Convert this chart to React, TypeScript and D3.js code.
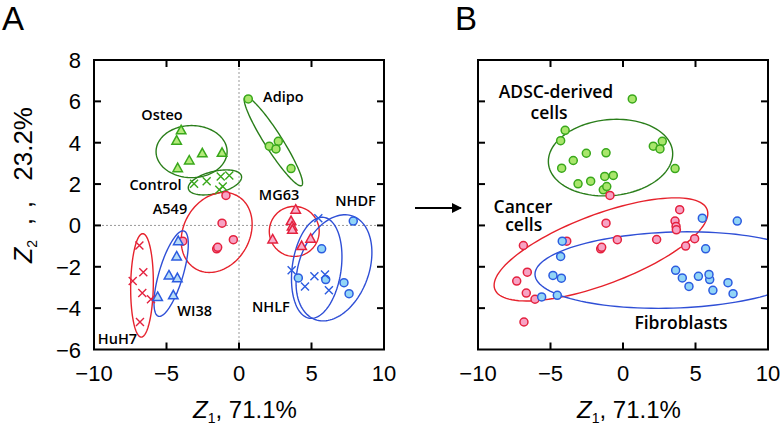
import React from "react";
import * as d3 from "d3";

// ---------- data (Z1, Z2 scores) ----------
const osteo: [number, number][] = [[-3.99, 4.6], [-4.3, 4.1], [-2.53, 3.49], [-3.43, 3.14], [-1.17, 3.51], [-4.23, 2.77]];
const adipo: [number, number][] = [[0.64, 6.12], [2.71, 4.07], [2.09, 3.83], [2.55, 3.7], [3.59, 2.75]];
const control: [number, number][] = [[-3.1, 2.01], [-2.23, 2.14], [-1.26, 2.37], [-0.67, 2.42], [-1.36, 1.72], [-1.12, 1.88]];
const a549: [number, number][] = [[-0.9, 1.45], [-1.17, 0.11], [-0.39, -0.69], [-1.54, -1.13], [-1.47, -1.06], [-3.88, -0.76]];
const huh7: [number, number][] = [[-6.87, -0.97], [-6.6, -2.26], [-7.33, -2.69], [-6.67, -3.27], [-6.07, -3.57], [-6.83, -4.67]];
const mg63: [number, number][] = [[3.91, 0.76], [3.59, 0.21], [3.66, -0.05], [3.68, -0.21], [2.32, -0.68], [4.94, -0.64], [4.32, -1.0]];
const wi38: [number, number][] = [[-4.19, -0.76], [-4.3, -1.5], [-4.83, -2.42], [-4.25, -2.55], [-4.53, -3.38], [-5.61, -3.46]];
const nhdf: [number, number][] = [[7.88, 0.21], [5.7, -1.13], [4.09, -2.54], [5.98, -2.62], [7.24, -2.77], [7.59, -3.3]];
const nhlf: [number, number][] = [[5.47, 0.35], [3.63, -2.17], [4.55, -2.95], [5.2, -2.46], [5.93, -2.37], [6.2, -3.14]];

const groupNames = ["Osteo", "Adipo", "Control", "A549", "HuH7", "MG63", "WI38", "NHDF", "NHLF"];
const groupPoints = [osteo, adipo, control, a549, huh7, mg63, wi38, nhdf, nhlf];
const groupShapes = ["triangle", "circle", "cross", "circle", "cross", "triangle", "triangle", "circle", "cross"];
const groupClass = ["adsc", "adsc", "adsc", "cancer", "cancer", "cancer", "fibro", "fibro", "fibro"];
// label anchor (data units)
const groupLabelX = [-5.31, 3.06, -5.76, -4.76, -8.38, 2.76, -3.06, 8.03, 2.2];
const groupLabelY = [5.33, 6.2, 1.94, 0.78, -5.47, 1.45, -4.12, 1.16, -3.96];
// ellipses: centre and two semi-axis vectors (data units)
const groupEllipses = [
  [-3.27, 3.57, 2.45, 0.0, 0.0, -1.26],
  [2.37, 4.07, 1.95, -2.14, 0.5, 0.23],
  [-1.66, 2.08, 1.83, 0.31, 0.18, -0.52],
  [-1.54, -0.34, 1.45, 1.76, 1.97, -0.8],
  [-6.69, -2.9, 0.78, 0.0, 0.05, 2.5],
  [3.81, -0.29, 1.72, 0.0, 0.0, 1.21],
  [-4.68, -2.33, 0.88, 2.06, 0.79, -0.17],
  [6.55, -2.05, 1.3, 2.5, 2.27, -0.58],
  [5.36, -2.05, 0.49, 2.44, 1.67, -0.16],
];

const classNames = ["adsc", "cancer", "fibro"];
const classLabels = [["ADSC-derived", "cells"], ["Cancer", "cells"], ["Fibroblasts"]];
const classLabelX = [[-4.62, -5.1], [-6.9, -6.85], [4.0]];
const classLabelY = [[6.44, 5.45], [0.89, 0.03], [-4.7]];
const classEllipses = [
  [-0.86, 3.28, 4.28, 0.29, 0.25, -1.83],
  [-1.52, -1.16, 7.32, 1.93, 0.85, -1.58],
  [3.45, -2.16, 9.52, 0.2, 0.0, 1.84],
];

const xTicks = [-10, -5, 0, 5, 10];
const yTicks = [-6, -4, -2, 0, 2, 4, 6, 8];

const colors: Record<string, { stroke: string; fill: string; ell: string; triFill: string }> = {
  adsc: { stroke: "#3aa81c", fill: "#a9e66c", ell: "#2a7e1a", triFill: "#b4ea7a" },
  cancer: { stroke: "#e4223f", fill: "#f7a3c4", ell: "#e6222c", triFill: "#f7b0cc" },
  fibro: { stroke: "#2c5ce0", fill: "#92d5f6", ell: "#2f4fd6", triFill: "#b8dcf8" },
};

const TOP = 60, BOTTOM = 349.5;
const yScale = d3.scaleLinear().domain([-6, 8]).range([BOTTOM, TOP]);
const xScaleA = d3.scaleLinear().domain([-10, 10]).range([94, 384]);
const xScaleB = d3.scaleLinear().domain([-10, 10]).range([478, 768]);

const tickFont = "'Liberation Sans', Arial, sans-serif";
const labFont = "'Open Sans', 'Noto Sans', sans-serif";

function ellipsePath(e: number[], xs: d3.ScaleLinear<number, number>) {
  const [cx, cy, ax, ay, bx, by] = e;
  const pts: [number, number][] = d3.range(0, 121).map((i) => {
    const t = (i / 120) * Math.PI * 2;
    return [cx + ax * Math.cos(t) + bx * Math.sin(t), cy + ay * Math.cos(t) + by * Math.sin(t)];
  });
  return d3.line<[number, number]>().x((d) => xs(d[0])).y((d) => yScale(d[1])).curve(d3.curveLinearClosed)(pts) || "";
}

function Marker({ shape, cx, cy, c }: { shape: string; cx: number; cy: number; c: { stroke: string; fill: string; triFill: string } }) {
  if (shape === "circle") return <circle cx={cx} cy={cy} r={4} fill={c.fill} stroke={c.stroke} strokeWidth={1.5} />;
  if (shape === "triangle") {
    const s = 5;
    const p = d3.path();
    p.moveTo(cx, cy - s);
    p.lineTo(cx + s * 0.95, cy + s * 0.7);
    p.lineTo(cx - s * 0.95, cy + s * 0.7);
    p.closePath();
    return <path d={p.toString()} fill={c.triFill} stroke={c.stroke} strokeWidth={1.5} />;
  }
  const s = 4;
  return (
    <path d={`M${cx - s},${cy - s}L${cx + s},${cy + s}M${cx - s},${cy + s}L${cx + s},${cy - s}`} stroke={c.stroke} strokeWidth={1.4} fill="none" />
  );
}

function Frame({ xs, showY, id }: { xs: d3.ScaleLinear<number, number>; showY: boolean; id: string }) {
  const [x0, x1] = xs.range();
  const tl = 7;
  return (
    <g>
      <rect x={x0} y={TOP} width={x1 - x0} height={BOTTOM - TOP} fill="none" stroke="#000" strokeWidth={2} />
      {xTicks.slice(1, -1).map((t) => (
        <g key={"xt" + id + t}>
          <line x1={xs(t)} x2={xs(t)} y1={BOTTOM} y2={BOTTOM - tl} stroke="#000" strokeWidth={2} />
          <line x1={xs(t)} x2={xs(t)} y1={TOP} y2={TOP + tl} stroke="#000" strokeWidth={2} />
        </g>
      ))}
      {yTicks.slice(1, -1).map((t) => (
        <g key={"yt" + id + t}>
          <line x1={x0} x2={x0 + tl} y1={yScale(t)} y2={yScale(t)} stroke="#000" strokeWidth={2} />
          <line x1={x1} x2={x1 - tl} y1={yScale(t)} y2={yScale(t)} stroke="#000" strokeWidth={2} />
        </g>
      ))}
      {xTicks.map((t) => (
        <text key={"xl" + id + t} x={xs(t)} y={381} textAnchor="middle" fontFamily={tickFont} fontSize={22} fill="#000">
          {t < 0 ? "\u2212" + Math.abs(t) : t}
        </text>
      ))}
      {showY &&
        yTicks.map((t) => (
          <text key={"yl" + id + t} x={81} y={yScale(t) + 8} textAnchor="end" fontFamily={tickFont} fontSize={22} fill="#000">
            {t < 0 ? "\u2212" + Math.abs(t) : t}
          </text>
        ))}
      <text x={(x0 + x1) / 2 - 46} y={418} textAnchor="start" fontFamily={tickFont} fontSize={24} fill="#000">
        <tspan fontStyle="italic">Z</tspan>
        <tspan fontSize={14} dy={5}>1</tspan>
        <tspan dy={-5}>, 71.1%</tspan>
      </text>
    </g>
  );
}

export default function App() {
  return (
    <svg width={784} height={437} style={{ position: "absolute", left: 0, top: 0, background: "#fff" }}>
      <defs>
        <clipPath id="clipA">
          <rect x={94} y={TOP} width={290} height={BOTTOM - TOP} />
        </clipPath>
        <clipPath id="clipB">
          <rect x={478} y={TOP} width={290} height={BOTTOM - TOP} />
        </clipPath>
        <marker id="arrow" viewBox="0 0 10 10" refX={9} refY={5} markerWidth={5} markerHeight={5} orient="auto">
          <path d="M0,0L10,5L0,10Z" fill="#000" />
        </marker>
      </defs>

      <text x={2} y={30} fontFamily={tickFont} fontSize={33} fill="#000">A</text>
      <text x={455} y={30} fontFamily={tickFont} fontSize={33} fill="#000">B</text>

      {/* Panel A */}
      <g clipPath="url(#clipA)">
        <line x1={xScaleA(0)} x2={xScaleA(0)} y1={TOP} y2={BOTTOM} stroke="#999" strokeWidth={1} strokeDasharray="2,2" />
        <line x1={94} x2={384} y1={yScale(0)} y2={yScale(0)} stroke="#999" strokeWidth={1} strokeDasharray="2,2" />
        {groupEllipses.map((e, i) => (
          <path key={"ea" + i} d={ellipsePath(e, xScaleA)} fill="none" stroke={colors[groupClass[i]].ell} strokeWidth={1.4} />
        ))}
        {groupPoints.map((pts, i) =>
          pts.map((p, j) => (
            <Marker key={"ma" + i + "-" + j} shape={groupShapes[i]} cx={xScaleA(p[0])} cy={yScale(p[1])} c={colors[groupClass[i]]} />
          ))
        )}
      </g>
      {groupNames.map((n, i) => (
        <text key={"la" + i} x={xScaleA(groupLabelX[i])} y={yScale(groupLabelY[i]) + 5} textAnchor="middle" fontFamily={labFont} fontWeight={600} fontSize={14.5} fill="#000">
          {n}
        </text>
      ))}
      <Frame xs={xScaleA} showY={true} id="A" />

      <g transform="translate(32,263) rotate(-90)">
        <text x={0} y={0} fontFamily={tickFont} fontSize={25} fill="#000">
          <tspan fontStyle="italic">Z</tspan>
          <tspan fontSize={14} dy={5}>2</tspan>
        </text>
        <text x={38} y={0} fontFamily={tickFont} fontSize={25} fill="#000">,</text>
        <text x={55} y={0} fontFamily={tickFont} fontSize={25} fill="#000">,</text>
        <text x={156} y={0} textAnchor="end" fontFamily={tickFont} fontSize={26} fill="#000">23.2%</text>
      </g>

      {/* arrow */}
      <line x1={415} x2={461} y1={208} y2={208} stroke="#000" strokeWidth={2} markerEnd="url(#arrow)" />

      {/* Panel B */}
      <g clipPath="url(#clipB)">
        {classEllipses.map((e, i) => (
          <path key={"eb" + i} d={ellipsePath(e, xScaleB)} fill="none" stroke={colors[classNames[i]].ell} strokeWidth={1.4} />
        ))}
        {groupPoints.map((pts, i) =>
          pts.map((p, j) => (
            <Marker key={"mb" + i + "-" + j} shape="circle" cx={xScaleB(p[0])} cy={yScale(p[1])} c={colors[groupClass[i]]} />
          ))
        )}
      </g>
      {classLabels.map((lines, i) =>
        lines.map((l, j) => (
          <text key={"lb" + i + j} x={xScaleB(classLabelX[i][j])} y={yScale(classLabelY[i][j]) + 6} textAnchor="middle" fontFamily={labFont} fontWeight={600} fontSize={17.5} fill="#000">
            {l}
          </text>
        ))
      )}
      <Frame xs={xScaleB} showY={false} id="B" />
    </svg>
  );
}
